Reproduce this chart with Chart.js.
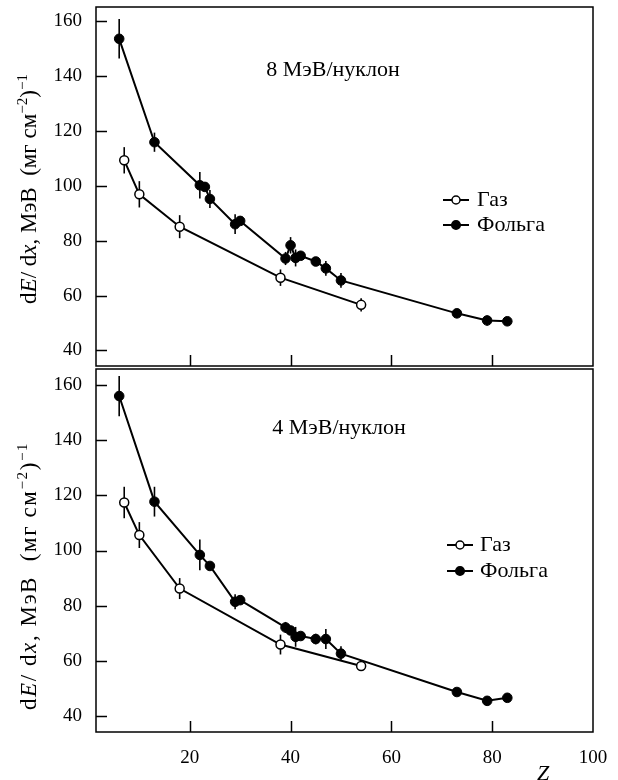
<!DOCTYPE html>
<html>
<head>
<meta charset="utf-8">
<script src="https://cdn.jsdelivr.net/npm/chart.js@4.4.1/dist/chart.umd.min.js"></script>
<style>
html,body{margin:0;padding:0;background:#fff;}
#wrap{position:relative;width:618px;height:780px;overflow:hidden;background:#fff;}
#wrap canvas{position:absolute;left:0;}
</style>
</head>
<body>
<div id="wrap">
  <canvas id="c1" width="618" height="372" style="top:0px"></canvas>
  <canvas id="c2" width="618" height="420" style="top:360px"></canvas>
</div>
<script>
// ---------- data ----------
const panelLabels = ['8 МэВ/нуклон', '4 МэВ/нуклон'];
const seriesNames = ['Газ', 'Фольга'];
const xTicks = [20, 40, 60, 80, 100];
const yTicks = [40, 60, 80, 100, 120, 140, 160];

// Gas (open circles)
const gasZ     = [7, 10, 18, 38, 54];
const gas8     = [109.3, 96.9, 85.1, 66.5, 56.6];
const gas8Err  = [4.8, 4.8, 4.2, 3.0, 2.4];
const gas4     = [117.4, 105.6, 86.2, 65.9, 58.1];
const gas4Err  = [5.7, 4.7, 3.8, 3.6, 1.2];

// Foil (filled circles)
const foil8Z   = [6, 13, 22, 23, 24, 29, 30, 39, 40, 41, 42, 45, 47, 50, 73, 79, 83];
const foil8    = [153.6, 115.9, 100.2, 99.6, 95.2, 86.0, 87.2, 73.5, 78.3, 73.7, 74.5, 72.4, 69.9, 65.5, 53.5, 50.9, 50.6];
const foil8Err = [7.2, 3.5, 4.8, 0, 3.3, 3.6, 0, 2.4, 3.0, 3.1, 0, 1.6, 2.7, 2.7, 1.6, 1.8, 1.5];

const foil4Z   = [6, 13, 22, 24, 29, 30, 39, 40, 41, 42, 45, 47, 50, 73, 79, 83];
const foil4    = [156.0, 117.7, 98.4, 94.4, 81.4, 82.0, 72.1, 71.0, 68.7, 69.0, 67.9, 67.9, 62.6, 48.7, 45.5, 46.6];
const foil4Err = [7.3, 5.4, 5.6, 0, 2.7, 0, 2.0, 0, 3.6, 0, 1.9, 3.6, 2.7, 1.0, 1.0, 1.0];

// ---------- style ----------
const SERIF = '"Liberation Serif", "DejaVu Serif", "Times New Roman", serif';
const FONT_SIZE = 19;     // tick labels
const TEXT_SIZE = 22;     // annotations, legend
const TITLE_SIZE = 23;    // axis titles
Chart.defaults.font.family = SERIF;
Chart.defaults.color = '#000';

function pts(xs, ys) { return xs.map((x, i) => ({ x: x, y: ys[i] })); }

function gasDataset(ys) {
  return {
    label: seriesNames[0], data: pts(gasZ, ys),
    borderColor: '#000', borderWidth: 2, tension: 0, fill: false,
    pointRadius: 4.5, pointBackgroundColor: '#fff', pointBorderColor: '#000', pointBorderWidth: 1.5
  };
}
function foilDataset(xs, ys) {
  return {
    label: seriesNames[1], data: pts(xs, ys),
    borderColor: '#000', borderWidth: 2, tension: 0, fill: false,
    pointRadius: 4.8, pointBackgroundColor: '#000', pointBorderColor: '#000', pointBorderWidth: 1
  };
}

function yScaleOpts(min, max) {
  return {
    type: 'linear', min: min, max: max,
    grid: { display: false, drawTicks: false },
    border: { display: false },
    ticks: { color: '#000', font: { size: FONT_SIZE, family: SERIF }, padding: 14 },
    afterBuildTicks: s => { s.ticks = yTicks.map(v => ({ value: v })); },
    afterFit: s => { s.width = 96; s.paddingTop = 0; s.paddingBottom = 0; }
  };
}

const titleSegs = [
  { t: 'd', it: false }, { t: 'E', it: true }, { t: '/ d', it: false }, { t: 'x', it: true },
  { t: ', МэВ  (мг см', it: false }, { t: '−2', sup: true }, { t: ')', it: false }, { t: '−1', sup: true }
];

function drawRich(ctx, segs, bx, cy, spacing) {
  ctx.save();
  ctx.translate(bx, cy);
  ctx.rotate(-Math.PI / 2);
  if ('letterSpacing' in ctx) ctx.letterSpacing = (spacing || 0) + 'px';
  let total = 0;
  segs.forEach(s => {
    s.font = (s.it ? 'italic ' : '') + (s.sup ? 15 : TITLE_SIZE) + 'px ' + SERIF;
    ctx.font = s.font;
    s.w = ctx.measureText(s.t).width;
    total += s.w;
  });
  let x = -total / 2;
  ctx.fillStyle = '#000';
  ctx.textBaseline = 'alphabetic';
  ctx.textAlign = 'left';
  segs.forEach(s => {
    ctx.font = s.font;
    ctx.fillText(s.t, x, s.sup ? -9 : 0);
    x += s.w;
  });
  ctx.restore();
}

const framePlugin = {
  id: 'frame',
  beforeDatasetsDraw(chart, args, o) {
    const ctx = chart.ctx, xs = chart.scales.x, ys = chart.scales.y;
    ctx.save();
    ctx.strokeStyle = '#000';
    ctx.lineWidth = 1.6;
    chart.data.datasets.forEach((ds, di) => {
      const errs = o.errors[di];
      ds.data.forEach((p, j) => {
        const e = errs[j];
        if (!e) return;
        const px = xs.getPixelForValue(p.x);
        ctx.beginPath();
        ctx.moveTo(px, ys.getPixelForValue(p.y + e));
        ctx.lineTo(px, ys.getPixelForValue(p.y - e));
        ctx.stroke();
      });
    });
    ctx.restore();
  },
  afterDraw(chart, args, o) {
    const ctx = chart.ctx, a = chart.chartArea, xs = chart.scales.x, ys = chart.scales.y;
    ctx.save();
    ctx.strokeStyle = '#000';
    ctx.lineWidth = 1.5;
    ctx.strokeRect(a.left, a.top, a.right - a.left, a.bottom - a.top);
    // inward ticks
    ctx.beginPath();
    yTicks.forEach(v => {
      const py = Math.round(ys.getPixelForValue(v)) + 0.5;
      ctx.moveTo(a.left, py); ctx.lineTo(a.left + 11, py);
    });
    xTicks.forEach(v => {
      const px = Math.round(xs.getPixelForValue(v)) + 0.5;
      if (px > a.right - 2) return;
      ctx.moveTo(px, a.bottom); ctx.lineTo(px, a.bottom - 11);
    });
    ctx.stroke();

    ctx.fillStyle = '#000';
    ctx.font = TEXT_SIZE + 'px ' + SERIF;
    // panel annotation
    ctx.textAlign = 'center';
    ctx.textBaseline = 'middle';
    ctx.fillText(o.label, o.labelX, a.top + o.labelDY);

    // legend
    chart.data.datasets.forEach((ds, i) => {
      const y = a.top + o.legY[i];
      ctx.beginPath();
      ctx.lineWidth = 2;
      ctx.strokeStyle = '#000';
      ctx.moveTo(o.legX1, y); ctx.lineTo(o.legX2, y);
      ctx.stroke();
      ctx.beginPath();
      ctx.arc((o.legX1 + o.legX2) / 2, y, ds.pointRadius - 0.5, 0, Math.PI * 2);
      ctx.fillStyle = ds.pointBackgroundColor;
      ctx.fill();
      ctx.lineWidth = 1.5;
      ctx.stroke();
      ctx.fillStyle = '#000';
      ctx.textAlign = 'left';
      ctx.textBaseline = 'middle';
      ctx.font = TEXT_SIZE + 'px ' + SERIF;
      ctx.fillText(ds.label, o.legTextX, y);
    });

    // y title
    drawRich(ctx, titleSegs, 36, a.top + o.titleDY, o.titleSpacing);

    // x title
    if (o.xTitle) {
      ctx.font = 'italic ' + TEXT_SIZE + 'px ' + SERIF;
      ctx.textAlign = 'center';
      ctx.textBaseline = 'middle';
      ctx.fillText(o.xTitle, o.xTitleX, a.bottom + o.xTitleDY);
    }
    ctx.restore();
  }
};

const X_MIN = 1.4, X_MAX = 100;

new Chart(document.getElementById('c1'), {
  type: 'line',
  data: { datasets: [gasDataset(gas8), foilDataset(foil8Z, foil8)] },
  options: {
    responsive: false, animation: false,
    layout: { padding: { top: 7, bottom: 3, left: 0, right: 25 } },
    scales: {
      x: { type: 'linear', min: X_MIN, max: X_MAX, display: false },
      y: yScaleOpts(34.3, 165.2)
    },
    plugins: {
      legend: { display: false }, tooltip: { enabled: false },
      frame: {
        errors: [gas8Err, foil8Err],
        label: panelLabels[0], labelX: 333, labelDY: 63,
        legY: [193, 218], legX1: 443, legX2: 469, legTextX: 477,
        titleDY: 182, titleSpacing: 0
      }
    }
  },
  plugins: [framePlugin]
});

new Chart(document.getElementById('c2'), {
  type: 'line',
  data: { datasets: [gasDataset(gas4), foilDataset(foil4Z, foil4)] },
  options: {
    responsive: false, animation: false,
    layout: { padding: { top: 9, bottom: 0, left: 0, right: 25 } },
    scales: {
      x: {
        type: 'linear', min: X_MIN, max: X_MAX,
        grid: { display: false, drawTicks: false },
        border: { display: false },
        ticks: { color: '#000', font: { size: FONT_SIZE, family: SERIF }, padding: 15, autoSkip: false, maxRotation: 0 },
        afterBuildTicks: s => { s.ticks = xTicks.map(v => ({ value: v })); },
        afterFit: s => { s.height = 48; s.paddingLeft = 0; s.paddingRight = 0; }
      },
      y: yScaleOpts(34.2, 165.8)
    },
    plugins: {
      legend: { display: false }, tooltip: { enabled: false },
      frame: {
        errors: [gas4Err, foil4Err],
        label: panelLabels[1], labelX: 339, labelDY: 59,
        legY: [176, 202], legX1: 447, legX2: 473, legTextX: 480,
        titleDY: 207, titleSpacing: 1.6,
        xTitle: 'Z', xTitleX: 543, xTitleDY: 42
      }
    }
  },
  plugins: [framePlugin]
});
</script>
</body>
</html>
